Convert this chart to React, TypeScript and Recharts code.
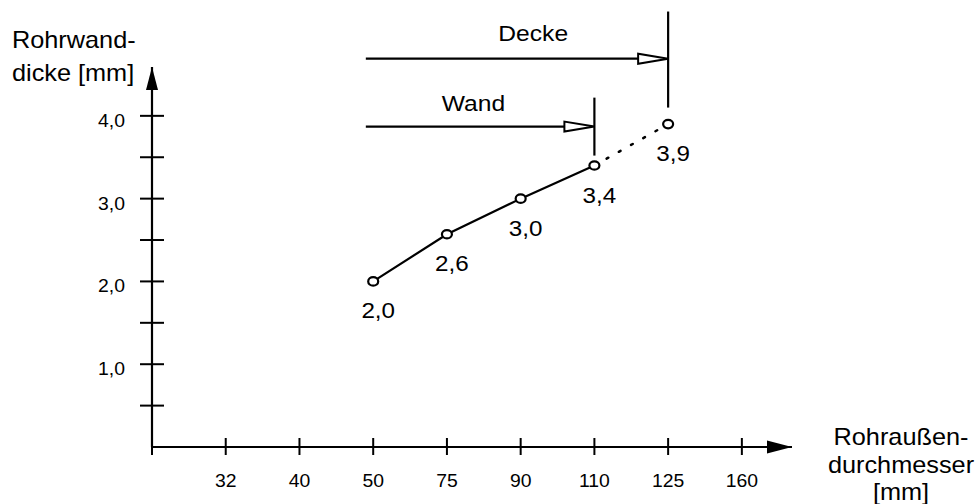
import React from "react";
import { ComposedChart, Line, Scatter, XAxis, YAxis, ReferenceLine, ReferenceDot } from "recharts";

const categories = ["32", "40", "50", "75", "90", "110", "125", "160"];
const wallThickness: (number | null)[] = [null, null, 2.0, 2.57, 3.0, 3.4, 3.9, null];
const yTicks = [0.5, 1.0, 1.5, 2.0, 2.5, 3.0, 3.5, 4.0];
const wallLimit = "110";
const ceilingLimit = "125";

const FONT = "'Liberation Sans', Arial, Helvetica, sans-serif";
const X_MAX = 8.68;
const Y_MAX = 4.59;

const wi = categories.indexOf(wallLimit);
const ci = categories.indexOf(ceilingLimit);

const rows = categories.map((cat, i) => {
  const v = wallThickness[i];
  return {
    x: i + 1,
    cat,
    value: v,
    solid: i <= wi ? v : null,
    dotted: i >= wi && i <= ci ? v : null,
  };
});
const points = rows.filter((r) => r.value != null);

const fmt = (v: number) => v.toFixed(1).replace(".", ",");

function SText({ x, y, size, sx = 1, anchor = "start", children }: any) {
  return (
    <text
      transform={`translate(${x} ${y}) scale(${sx} 1)`}
      fontSize={size}
      fontFamily={FONT}
      textAnchor={anchor}
      fill="#000"
    >
      {children}
    </text>
  );
}

const XTick = (props: any) => {
  const { x, y, payload } = props;
  const label = payload.value >= 1 ? categories[payload.value - 1] : "";
  return (
    <g>
      <line x1={x} x2={x} y1={y - 9} y2={y + 8} stroke="#000" strokeWidth={2} />
      <SText x={x} y={y + 40} size={19} sx={1.02} anchor="middle">{label}</SText>
    </g>
  );
};

const YTick = (props: any) => {
  const { x, y, payload } = props;
  const v = payload.value;
  return (
    <g>
      <line x1={x - 12} x2={x + 12} y1={y} y2={y} stroke="#000" strokeWidth={2} />
      {Number.isInteger(v) && (
        <SText x={x - 27} y={y + 11} size={19} sx={1.02} anchor="end">{fmt(v)}</SText>
      )}
    </g>
  );
};

const PointShape = (props: any) => {
  const { cx, cy, payload } = props;
  return (
    <g>
      <ellipse cx={cx} cy={cy} rx={5} ry={4.2} fill="#fff" stroke="#000" strokeWidth={2.2} />
      <SText x={cx + 5} y={cy + 37} size={22} sx={1.1} anchor="middle">{fmt(payload.value)}</SText>
    </g>
  );
};

const ArrowLine = (props: any) => {
  const { x1, y1, x2, y2 } = props;
  return (
    <g>
      <line x1={x1} y1={y1} x2={x2 - 30} y2={y2} stroke="#000" strokeWidth={2.2} />
      <polygon
        points={`${x2},${y2} ${x2 - 30},${y2 - 5} ${x2 - 30},${y2 + 5}`}
        fill="#fff"
        stroke="#000"
        strokeWidth={2}
      />
    </g>
  );
};

const UpArrow = ({ cx, cy }: any) => (
  <polygon points={`${cx},${cy} ${cx - 6},${cy + 23} ${cx + 6},${cy + 23}`} fill="#000" />
);
const RightArrow = ({ cx, cy }: any) => (
  <polygon points={`${cx},${cy} ${cx - 25},${cy - 6.5} ${cx - 25},${cy + 6.5}`} fill="#000" />
);
const labelShape = (text: string) => ({ cx, cy }: any) => (
  <SText x={cx} y={cy} size={22} sx={1.12} anchor="middle">{text}</SText>
);

export default function App() {
  return (
    <div style={{ position: "absolute", left: 0, top: 0, width: 979, height: 504, background: "#fff" }}>
      <ComposedChart
        width={979}
        height={504}
        data={rows}
        margin={{ top: 67, right: 187, bottom: 27, left: 92 }}
      >
        <XAxis
          type="number"
          dataKey="x"
          domain={[0, X_MAX]}
          allowDataOverflow
          ticks={[0, 1, 2, 3, 4, 5, 6, 7, 8]}
          height={30}
          tickSize={0}
          tickMargin={0}
          tickLine={false}
          axisLine={{ stroke: "#000", strokeWidth: 2.2 }}
          tick={<XTick />}
          interval={0}
        />
        <YAxis
          type="number"
          domain={[0, Y_MAX]}
          allowDataOverflow
          ticks={yTicks}
          width={60}
          tickSize={0}
          tickMargin={0}
          tickLine={false}
          axisLine={{ stroke: "#000", strokeWidth: 2.2 }}
          tick={<YTick />}
          interval={0}
        />
        <Line
          dataKey="solid"
          stroke="#000"
          strokeWidth={2.2}
          dot={false}
          activeDot={false}
          isAnimationActive={false}
        />
        <Line
          dataKey="dotted"
          stroke="#000"
          strokeWidth={2.5}
          strokeDasharray="2 12"
          strokeLinecap="round"
          dot={false}
          activeDot={false}
          isAnimationActive={false}
        />
        <Scatter data={points} dataKey="value" shape={<PointShape />} isAnimationActive={false} />

        <ReferenceLine
          segment={[{ x: 2.9, y: 3.87 }, { x: wi + 1, y: 3.87 }]}
          shape={<ArrowLine />}
          ifOverflow="visible"
        />
        <ReferenceLine
          segment={[{ x: wi + 1, y: 3.52 }, { x: wi + 1, y: 4.22 }]}
          stroke="#000"
          strokeWidth={2.2}
          ifOverflow="visible"
        />
        <ReferenceLine
          segment={[{ x: 2.9, y: 4.69 }, { x: ci + 1, y: 4.69 }]}
          shape={<ArrowLine />}
          ifOverflow="visible"
        />
        <ReferenceLine
          segment={[{ x: ci + 1, y: 4.1 }, { x: ci + 1, y: 5.26 }]}
          stroke="#000"
          strokeWidth={2.2}
          ifOverflow="visible"
        />
        <ReferenceDot x={4.36} y={4.06} ifOverflow="visible" shape={labelShape("Wand")} />
        <ReferenceDot x={5.17} y={4.91} ifOverflow="visible" shape={labelShape("Decke")} />
        <ReferenceDot x={0} y={Y_MAX} ifOverflow="visible" shape={<UpArrow />} />
        <ReferenceDot x={X_MAX} y={0} ifOverflow="visible" shape={<RightArrow />} />
      </ComposedChart>
      <svg
        width={979}
        height={504}
        style={{ position: "absolute", left: 0, top: 0, pointerEvents: "none" }}
      >
        <SText x={12} y={48} size={23} sx={1.1}>Rohrwand-</SText>
        <SText x={12} y={81} size={23} sx={1.1}>dicke [mm]</SText>
        <SText x={901} y={445} size={23} sx={1.1} anchor="middle">Rohraußen-</SText>
        <SText x={901} y={473} size={23} sx={1.1} anchor="middle">durchmesser</SText>
        <SText x={901} y={500} size={23} sx={1.1} anchor="middle">[mm]</SText>
      </svg>
    </div>
  );
}
